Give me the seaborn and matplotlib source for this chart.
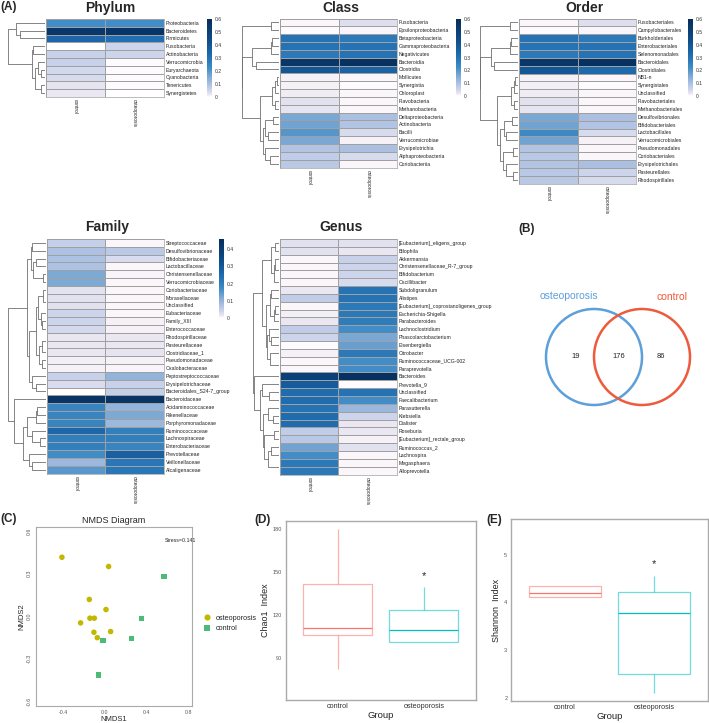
import numpy as np
import pandas as pd
import matplotlib
matplotlib.use("Agg")
import matplotlib.pyplot as plt
from matplotlib.colors import LinearSegmentedColormap
from matplotlib.patches import Circle
import seaborn as sns

sns.set_style("white")
plt.rcParams['font.family'] = ['Liberation Sans', 'DejaVu Sans']

W, H = 709, 723
groups = ["control", "osteoporosis"]

# ---- heatmap data (mean relative abundance: control, osteoporosis) ----
phylum_names = ["Proteobacteria", "Bacteroidetes", "Firmicutes", "Fusobacteria", "Actinobacteria",
                "Verrucomicrobia", "Euryarchaeota", "Cyanobacteria", "Tenericutes", "Synergistetes"]
phylum_ctrl = [0.22, 0.55, 0.34, 0.0, 0.06, 0.06, 0.045, 0.04, 0.025, 0.02]
phylum_ost = [0.22, 0.56, 0.31, 0.05, 0.05, 0.004, 0.003, 0.003, 0.003, 0.002]

class_names = ["Fusobacteria", "Epsilonproteobacteria", "Betaproteobacteria", "Gammaproteobacteria",
               "Negativicutes", "Bacteroidia", "Clostridia", "Mollicutes", "Synergistia", "Chloroplast",
               "Flavobacteria", "Methanobacteria", "Deltaproteobacteria", "Actinobacteria", "Bacilli",
               "Verrucomicrobiae", "Erysipelotrichia", "Alphaproteobacteria", "Coriobacteriia"]
class_ctrl = [0.005, 0.003, 0.3, 0.3, 0.28, 0.55, 0.4, 0.01, 0.01, 0.015, 0.03, 0.025,
              0.16, 0.17, 0.2, 0.16, 0.09, 0.07, 0.08]
class_ost = [0.035, 0.008, 0.28, 0.3, 0.3, 0.58, 0.35, 0.005, 0.003, 0.005, 0.005, 0.005,
             0.1, 0.09, 0.04, 0.01, 0.1, 0.04, 0.005]

order_names = ["Fusobacteriales", "Campylobacterales", "Burkholderiales", "Enterobacteriales",
               "Selenomonadales", "Bacteroidales", "Clostridiales", "NB1-n", "Synergistales",
               "Unclassified", "Flavobacteriales", "Methanobacteriales", "Desulfovibrionales",
               "Bifidobacteriales", "Lactobacillales", "Verrucomicrobiales", "Pseudomonadales",
               "Coriobacteriales", "Erysipelotrichales", "Pasteurellales", "Rhodospirillales"]
order_ctrl = [0.005, 0.003, 0.3, 0.3, 0.28, 0.55, 0.4, 0.01, 0.012, 0.015, 0.03, 0.025,
              0.16, 0.17, 0.23, 0.17, 0.09, 0.08, 0.09, 0.08, 0.08]
order_ost = [0.035, 0.008, 0.28, 0.3, 0.3, 0.58, 0.33, 0.005, 0.003, 0.005, 0.005, 0.005,
             0.1, 0.09, 0.04, 0.01, 0.005, 0.005, 0.1, 0.05, 0.04]

family_names = ["Streptococcaceae", "Desulfovibrionaceae", "Bifidobacteriaceae", "Lactobacillaceae",
                "Christensenellaceae", "Verrucomicrobiaceae", "Coriobacteriaceae", "Moraxellaceae",
                "Unclassified", "Eubacteriaceae", "Family_XIII", "Enterococcaceae", "Rhodospirillaceae",
                "Pasteurellaceae", "Clostridiaceae_1", "Pseudomonadaceae", "Oxalobacteraceae",
                "Peptostreptococcaceae", "Erysipelotrichaceae", "Bacteroidales_S24-7_group",
                "Bacteroidaceae", "Acidaminococcaceae", "Rikenellaceae", "Porphyromonadaceae",
                "Ruminococcaceae", "Lachnospiraceae", "Enterobacteriaceae", "Prevotellaceae",
                "Veillonellaceae", "Alcaligenaceae"]
family_ctrl = [0.05, 0.075, 0.075, 0.075, 0.12, 0.12, 0.02, 0.022, 0.022, 0.038, 0.038, 0.034,
               0.015, 0.015, 0.015, 0.01, 0.008, 0.045, 0.03, 0.0, 0.43, 0.19, 0.19, 0.19,
               0.26, 0.2, 0.2, 0.17, 0.09, 0.15]
family_ost = [0.004, 0.06, 0.03, 0.004, 0.006, 0.004, 0.004, 0.004, 0.004, 0.004, 0.008, 0.008,
              0.015, 0.015, 0.018, 0.008, 0.006, 0.1, 0.045, 0.05, 0.43, 0.1, 0.12, 0.09,
              0.2, 0.2, 0.19, 0.28, 0.22, 0.22]

genus_names = ["[Eubacterium]_eligens_group", "Bilophila", "Akkermansia", "Christensenellaceae_R-7_group",
               "Bifidobacterium", "Oscillibacter", "Subdoligranulum", "Alistipes",
               "[Eubacterium]_coprostanoligenes_group", "Escherichia-Shigella", "Parabacteroides",
               "Lachnoclostridium", "Phascolarctobacterium", "Eisenbergiella", "Citrobacter",
               "Ruminococcaceae_UCG-002", "Paraprevotella", "Bacteroides", "Prevotella_9", "Unclassified",
               "Faecalibacterium", "Parasutterella", "Klebsiella", "Dialister", "Roseburia",
               "[Eubacterium]_rectale_group", "Ruminococcus_2", "Lachnospira", "Megasphaera",
               "Alloprevotella"]
genus_ctrl = [0.03, 0.03, 0.005, 0.005, 0.005, 0.005, 0.02, 0.07, 0.005, 0.012, 0.02, 0.07, 0.05,
              0.003, 0.01, 0.005, 0.005, 0.5, 0.38, 0.32, 0.32, 0.3, 0.32, 0.32, 0.07, 0.08,
              0.17, 0.22, 0.28, 0.28]
genus_ost = [0.03, 0.02, 0.06, 0.05, 0.05, 0.04, 0.3, 0.3, 0.28, 0.28, 0.27, 0.22, 0.16, 0.18,
             0.28, 0.22, 0.22, 0.58, 0.003, 0.3, 0.22, 0.12, 0.05, 0.02, 0.02, 0.01, 0.03, 0.005,
             0.005, 0.005]

# ---- Venn counts: osteoporosis only, shared, control only ----
venn_counts = [19, 176, 86]

# ---- NMDS ordination ----
nmds1 = [-0.41, 0.035, -0.149, 0.01, -0.143, -0.101, -0.232, -0.105, 0.054, -0.073,
         0.563, 0.347, 0.255, -0.019, -0.063]
nmds2 = [0.415, 0.35, 0.118, 0.047, -0.014, -0.014, -0.047, -0.113, -0.108, -0.151,
         0.279, -0.016, -0.156, -0.172, -0.415]
nmds_group = ["osteoporosis"] * 10 + ["control"] * 5
stress = 0.141

chao1_ctrl = [82, 106, 111, 141.6, 180]
chao1_ost = [101, 101, 109.5, 123.5, 139.5]
shannon_ctrl = [4.105, 4.105, 4.197, 4.335, 4.335]
shannon_ost = [2.11, 2.50, 3.78, 4.22, 4.56]

hm_cmap = LinearSegmentedColormap.from_list("hm", [
    (0.0, "#FFFFFF"), (0.008, "#FBF6FA"), (0.033, "#E9E6F1"), (0.083, "#CDD5EC"),
    (0.15, "#B2C4E3"), (0.27, "#78A6D4"), (0.37, "#3F8CC6"), (0.53, "#1F6DB0"),
    (0.7, "#10508F"), (1.0, "#062D5B")])


def rect(x0, y0, x1, y1):
    return [x0 / W, 1 - y1 / H, (x1 - x0) / W, (y1 - y0) / H]


def ordered_clusters(M):
    # complete-linkage agglomeration restricted to neighbouring rows
    cl = [dict(m=[i], p=i + 0.5, h=0.0) for i in range(len(M))]
    merges = []
    while len(cl) > 1:
        best = None
        for k in range(len(cl) - 1):
            d = max(np.linalg.norm(M[i] - M[j]) for i in cl[k]['m'] for j in cl[k + 1]['m'])
            if best is None or d < best[0]:
                best = (d, k)
        d, k = best
        a, b = cl[k], cl[k + 1]
        h = max(d, a['h'], b['h'])
        merges.append((a, b, h))
        cl[k:k + 2] = [dict(m=a['m'] + b['m'], p=(a['p'] + b['p']) / 2, h=h)]
    return merges


def heat_panel(fig, names, ctrl, ost, vmax, title, title_xy, hrect, drect, crect=None, cticks=None):
    df = pd.DataFrame({"control": ctrl, "osteoporosis": ost}, index=names)
    ax = fig.add_axes(rect(*hrect))
    cax = fig.add_axes(rect(*crect)) if crect else None
    sns.heatmap(df, ax=ax, cmap=hm_cmap, vmin=0, vmax=vmax, linewidths=0.4, linecolor="#a0a0a0",
                cbar=cax is not None, cbar_ax=cax, xticklabels=True, yticklabels=True)
    ax.yaxis.tick_right()
    ax.tick_params(length=0, pad=1.5)
    ax.set_yticklabels(names, rotation=0, fontsize=3.7, color="#222222")
    ax.set_xticklabels(groups, rotation=270, fontsize=3.5, color="#222222", va="top")
    ax.set_xlabel("")
    ax.set_ylabel("")
    for s in ax.spines.values():
        s.set_visible(True)
        s.set_color("#a0a0a0")
        s.set_linewidth(0.5)
    if cax is not None:
        cb = ax.collections[0].colorbar
        cb.outline.set_visible(False)
        cb.set_ticks(cticks)
        cb.set_ticklabels([("0" if t == 0 else f"{t:g}") for t in cticks])
        cax.tick_params(length=0, labelsize=3.6, pad=2, colors="#333333")

    dax = fig.add_axes(rect(*drect))
    merges = ordered_clusters(df.values)
    for a, b, h in merges:
        xs = np.power([a['h'], h, h, b['h']], 0.45)
        ys = [a['p'], a['p'], b['p'], b['p']]
        dax.plot(xs, ys, color="#707070", lw=0.6)
    top = max(h for _, _, h in merges) ** 0.45
    dax.set_xlim(top * 1.01, 0)
    dax.set_ylim(len(names), 0)
    dax.axis("off")
    fig.text(title_xy[0] / W, 1 - title_xy[1] / H, title, ha="center", va="center",
             fontsize=10, fontweight="bold")


fig = plt.figure(figsize=(W / 100, H / 100), dpi=100)

heat_panel(fig, phylum_names, phylum_ctrl, phylum_ost, 0.6, "Phylum", (110, 8),
           (46, 19, 164, 97), (8, 19, 45, 97), (207, 19, 212, 97), [0, 0.1, 0.2, 0.3, 0.4, 0.5, 0.6])
heat_panel(fig, class_names, class_ctrl, class_ost, 0.6, "Class", (341, 8),
           (280, 18.5, 397, 167.5), (242, 18.5, 279, 167.5), (456, 19, 461, 96), [0, 0.1, 0.2, 0.3, 0.4, 0.5, 0.6])
heat_panel(fig, order_names, order_ctrl, order_ost, 0.6, "Order", (585, 8),
           (519, 18.5, 636, 183.5), (480, 18.5, 518, 183.5), (688, 19, 693, 96), [0, 0.1, 0.2, 0.3, 0.4, 0.5, 0.6])
heat_panel(fig, family_names, family_ctrl, family_ost, 0.46, "Family", (107, 227),
           (46.5, 239, 164, 473.5), (8, 239, 45.5, 473.5), (219, 239, 224, 318), [0, 0.1, 0.2, 0.3, 0.4])
heat_panel(fig, genus_names, genus_ctrl, genus_ost, 0.6, "Genus", (341, 227),
           (279.5, 239, 397, 474.5), (253, 239, 278.5, 474.5))

# ---- overlay for panel letters and the Venn diagram ----
ov = fig.add_axes([0, 0, 1, 1], zorder=-1)
ov.set_xlim(0, W)
ov.set_ylim(H, 0)
ov.axis("off")
for lab, x, y in [("(A)", 0, 7), ("(B)", 518, 229), ("(C)", 0, 519), ("(D)", 254, 520), ("(E)", 486, 520)]:
    ov.text(x, y, lab, fontsize=8.5, fontweight="bold", ha="left", va="center")

venn_blue, venn_red = "#5C9FDA", "#EE5A3C"
ov.add_patch(Circle((594, 357), 48, fill=False, ec=venn_blue, lw=1.8))
ov.add_patch(Circle((642, 357), 48, fill=False, ec=venn_red, lw=1.8))
ov.text(569, 296, "osteoporosis", color=venn_blue, fontsize=7.5, ha="center", va="center")
ov.text(672, 297, "control", color=venn_red, fontsize=7.5, ha="center", va="center")
for cx, n in zip([575.5, 618.5, 660.5], venn_counts):
    ov.text(cx, 357, str(n), fontsize=5.5, ha="center", va="center", color="#222222")

# ---- (C) NMDS ----
nm = pd.DataFrame({"NMDS1": nmds1, "NMDS2": nmds2, "group": nmds_group})
ax = fig.add_axes(rect(35.7, 526.7, 192, 705.7))
sns.scatterplot(data=nm, x="NMDS1", y="NMDS2", hue="group", style="group",
                hue_order=["osteoporosis", "control"], style_order=["osteoporosis", "control"],
                palette=["#C2B800", "#4DBB78"], markers=["o", "s"], s=16, linewidth=0, ax=ax)
ax.set_xlim(-0.66, 0.83)
ax.set_ylim(-0.63, 0.63)
ax.set_xticks([-0.4, 0.0, 0.4, 0.8])
ax.set_yticks([-0.6, -0.3, 0.0, 0.3, 0.6])
ax.set_xticklabels(["-0.4", "0.0", "0.4", "0.8"])
ax.set_yticklabels(["-0.6", "-0.3", "0.0", "0.3", "0.6"], rotation=90, va="center")
ax.tick_params(labelsize=3.8, colors="#555555", length=1.5, width=0.4, pad=1.5)
ax.set_xlabel("NMDS1", fontsize=5.5, labelpad=1)
ax.set_ylabel("NMDS2", fontsize=5.5, labelpad=1)
ax.set_title("NMDS Diagram", fontsize=6.5, pad=3)
ax.text(0.72, 0.53, f"Stress={stress}", fontsize=3.8, ha="center", va="center")
for s in ax.spines.values():
    s.set_color("#aaaaaa")
    s.set_linewidth(0.8)
ax.legend(loc="center left", bbox_to_anchor=(1.03, 0.46), frameon=False, fontsize=5.2,
          handletextpad=0.2, markerscale=1.1, borderaxespad=0, labelspacing=0.5)

# ---- (D) and (E) boxplots ----
pal = {"control": "#F8766D", "osteoporosis": "#00BFC4"}


def box_panel(r, ctrl, ost, ylab, ylim, yticks, star_y):
    df = pd.DataFrame({"Group": ["control"] * len(ctrl) + ["osteoporosis"] * len(ost),
                       "value": list(ctrl) + list(ost)})
    ax = fig.add_axes(rect(*r))
    sns.boxplot(data=df, x="Group", y="value", hue="Group", palette=pal, fill=False, width=0.8,
                showcaps=False, whis=1.5, legend=False, linewidth=0.9, ax=ax,
                boxprops={"alpha": 0.55}, whiskerprops={"alpha": 0.55}, medianprops={"alpha": 1})
    ax.set_xlim(-0.6, 1.6)
    ax.set_ylim(*ylim)
    ax.set_yticks(yticks)
    ax.text(1, star_y, "*", ha="center", va="center", fontsize=8)
    ax.set_xlabel("Group", fontsize=6.8, labelpad=0.5, color="#222222")
    ax.set_ylabel(ylab, fontsize=6.5, labelpad=2, color="#222222")
    ax.tick_params(axis="x", labelsize=5.2, length=1.2, width=0.4, pad=1, colors="#333333")
    ax.tick_params(axis="y", labelsize=4, colors="#555555", length=1.5, width=0.4, pad=1)
    for s in ax.spines.values():
        s.set_color("#aaaaaa")
        s.set_linewidth(1.0)
    return ax


box_panel((285.7, 520.7, 475.7, 700), chao1_ctrl, chao1_ost, "Chao1  Index",
          (60.5, 185.6), [90, 120, 150, 180], 147)
box_panel((510.7, 519.3, 708.3, 701.3), shannon_ctrl, shannon_ost, "Shannon  Index",
          (1.93, 5.74), [2, 3, 4, 5], 4.8)

fig.savefig("out.png", dpi=100)
